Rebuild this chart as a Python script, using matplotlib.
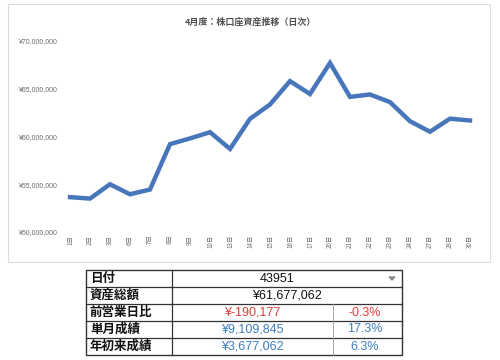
import matplotlib
matplotlib.use('Agg')
import matplotlib.pyplot as plt
from matplotlib.patches import Rectangle, Polygon
from matplotlib.ticker import FuncFormatter

JP = ['Noto Sans CJK JP', 'DejaVu Sans']
NUM = ['Liberation Sans', 'DejaVu Sans']

title = "4月度：株口座資産推移（日次）"
days = ['1日', '2日', '3日', '6日', '7日', '8日', '9日', '10日', '13日', '14日', '15日',
        '16日', '17日', '20日', '21日', '22日', '23日', '24日', '27日', '28日', '30日']
assets = [53650000, 53500000, 55000000, 53950000, 54450000, 59200000, 59800000,
          60450000, 58700000, 61850000, 63350000, 65800000, 64450000, 67700000,
          64150000, 64400000, 63600000, 61600000, 60500000, 61867239, 61677062]
yticks = [50000000, 55000000, 60000000, 65000000, 70000000]

row_labels = ['日付', '資産総額', '前営業日比', '単月成績', '年初来成績']
date_serial = '43951'
total = '¥61,677,062'
amounts = ['¥-190,177', '¥9,109,845', '¥3,677,062']
percents = ['-0.3%', '17.3%', '6.3%']
value_colors = ['#E23B3B', '#3D7EBF', '#3D7EBF']

W, H = 500, 360
fig = plt.figure(figsize=(5, 3.6), dpi=100)

# overlay in pixel coordinates for frame and table
bg = fig.add_axes([0, 0, 1, 1])
bg.set_xlim(0, W)
bg.set_ylim(H, 0)
bg.axis('off')
bg.add_patch(Rectangle((8, 4), 482, 258, fill=False, edgecolor='#dcdcdc', linewidth=0.8))

ax = fig.add_axes([60 / W, (H - 232) / H, 420 / W, 191 / H])
ax.plot(range(len(days)), assets, color='#4876BA', linewidth=3.2, solid_joinstyle='miter')
ax.set_xlim(-0.5, len(days) - 0.5)
ax.set_ylim(yticks[0], yticks[-1])
ax.set_yticks(yticks)
ax.yaxis.set_major_formatter(FuncFormatter(lambda v, p: f"¥{int(v):,}"))
ax.set_xticks(range(len(days)))
ax.set_xticklabels(days, rotation=90, family=JP, fontsize=4.5, color='#6b6b6b')
for lab in ax.get_yticklabels():
    lab.set_family(NUM)
    lab.set_fontsize(5)
    lab.set_color('#6b6b6b')
ax.tick_params(length=0, pad=2)
for s in ax.spines.values():
    s.set_visible(False)
ax.patch.set_alpha(0)

bg.text(250, 22, title, ha='center', va='center', family=JP, fontsize=6.5,
        fontweight='bold', color='#505050')

# table
left, c1, c2, right = 86, 172, 333, 402
rows = [270, 287, 304, 321, 338, 355]
bg.add_patch(Rectangle((left, rows[0]), right - left, rows[-1] - rows[0], fill=False,
                       edgecolor='#333333', linewidth=1.0))
for y in rows[1:-1]:
    bg.plot([left, right], [y, y], color='#333333', linewidth=0.9)
bg.plot([c1, c1], [rows[0], rows[-1]], color='#333333', linewidth=0.9)
bg.plot([c2, c2], [rows[2], rows[-1]], color='#999999', linewidth=0.6)

for i, lab in enumerate(row_labels):
    yc = (rows[i] + rows[i + 1]) / 2
    bg.text(left + 4, yc, lab, ha='left', va='center', family=JP, fontsize=9,
            fontweight='bold', color='#111111')

y0 = (rows[0] + rows[1]) / 2
bg.text(277, y0, date_serial, ha='center', va='center', family=NUM, fontsize=9, color='#111111')
bg.add_patch(Polygon([[389, y0 - 1.5], [395, y0 - 1.5], [392, y0 + 1.5]], closed=True,
                     color='#888888'))
y1 = (rows[1] + rows[2]) / 2
bg.text(287, y1, total, ha='center', va='center', family=NUM, fontsize=9, color='#111111')
for i in range(3):
    yc = (rows[i + 2] + rows[i + 3]) / 2
    bg.text((c1 + c2) / 2, yc, amounts[i], ha='center', va='center', family=NUM,
            fontsize=9, color=value_colors[i])
    bg.text((c2 + right) / 2 - 3, yc, percents[i], ha='center', va='center', family=NUM,
            fontsize=9, color=value_colors[i])

fig.savefig('out.png', dpi=100)
